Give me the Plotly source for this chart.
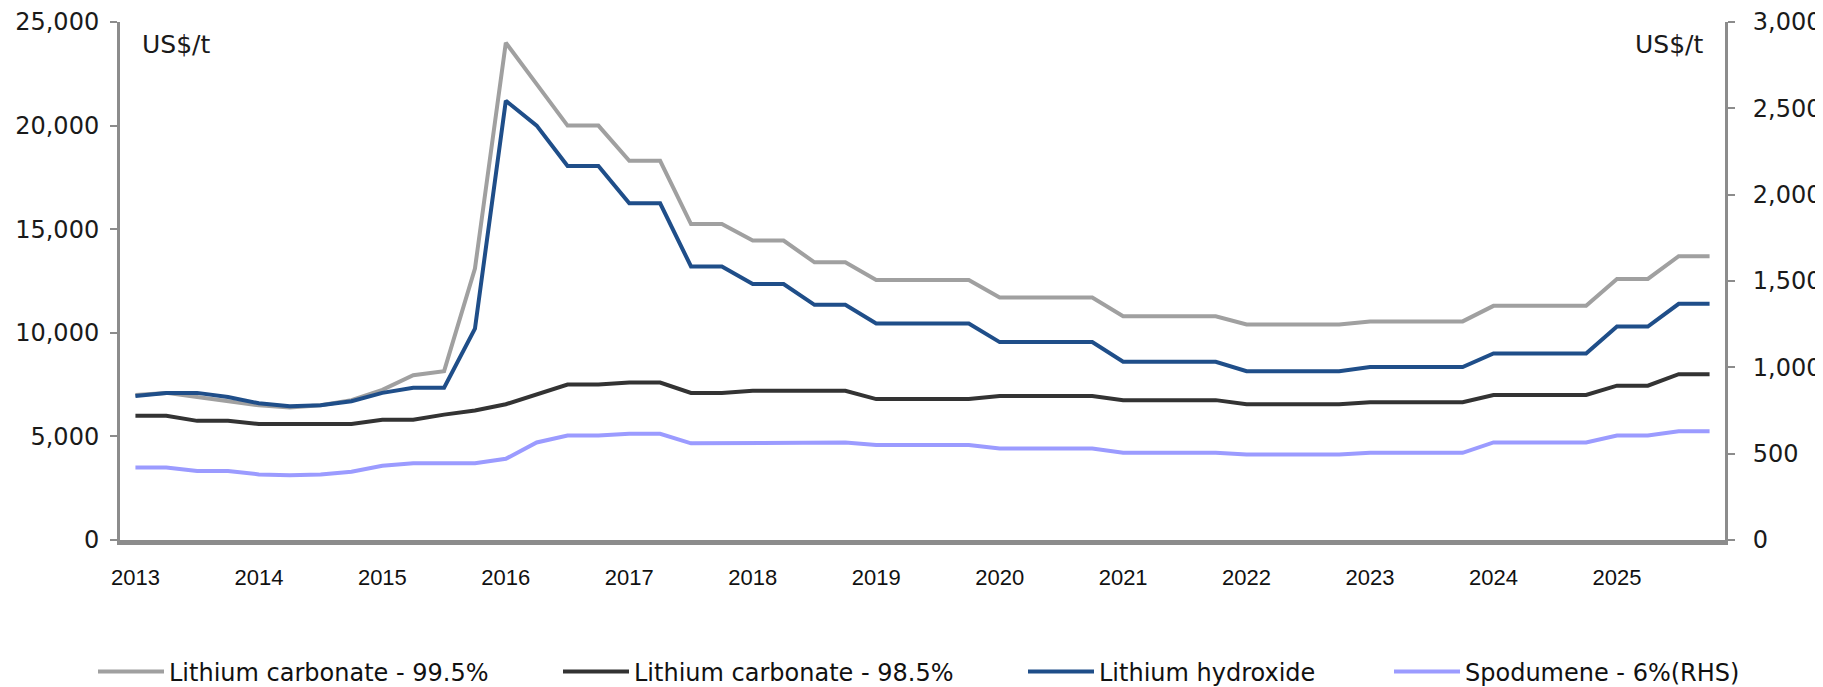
import plotly.graph_objects as go

# Quarterly data, 2013 Q1 .. 2025 Q4
years = [str(y) for y in range(2013, 2026)]
quarters = list(range(52))

carb_995 = [7000, 7100, 6900, 6700, 6500, 6400, 6500, 6750,
            7250, 7950, 8150, 13100, 24000, 22000, 20000, 20000,
            18300, 18300, 15250, 15250, 14450, 14450, 13400, 13400,
            12550, 12550, 12550, 12550, 11700, 11700, 11700, 11700,
            10800, 10800, 10800, 10800, 10400, 10400, 10400, 10400,
            10550, 10550, 10550, 10550, 11300, 11300, 11300, 11300,
            12600, 12600, 13700, 13700]

carb_985 = [6000, 6000, 5750, 5750, 5600, 5600, 5600, 5600,
            5800, 5800, 6050, 6250, 6550, 7000, 7500, 7500,
            7600, 7600, 7100, 7100, 7200, 7200, 7200, 7200,
            6800, 6800, 6800, 6800, 6950, 6950, 6950, 6950,
            6750, 6750, 6750, 6750, 6550, 6550, 6550, 6550,
            6650, 6650, 6650, 6650, 7000, 7000, 7000, 7000,
            7450, 7450, 8000, 8000]

hydroxide = [6950, 7100, 7100, 6900, 6600, 6450, 6500, 6700,
             7100, 7350, 7350, 10200, 21200, 20000, 18050, 18050,
             16250, 16250, 13200, 13200, 12350, 12350, 11350, 11350,
             10450, 10450, 10450, 10450, 9550, 9550, 9550, 9550,
             8600, 8600, 8600, 8600, 8150, 8150, 8150, 8150,
             8350, 8350, 8350, 8350, 9000, 9000, 9000, 9000,
             10300, 10300, 11400, 11400]

spodumene = [420, 420, 400, 400, 380, 375, 380, 395,
             430, 445, 445, 445, 470, 565, 605, 605,
             615, 615, 560, 560, 565, 565, 565, 565,
             550, 550, 550, 550, 530, 530, 530, 530,
             505, 505, 505, 505, 495, 495, 495, 495,
             505, 505, 505, 505, 565, 565, 565, 565,
             605, 605, 630, 630]

year_ticks = quarters[::4]

fig = go.Figure()
fig.add_trace(go.Scatter(x=quarters, y=carb_995, name="Lithium carbonate - 99.5%",
                         mode="lines", line=dict(color="#a0a0a0", width=4), legend="legend"))
fig.add_trace(go.Scatter(x=quarters, y=carb_985, name="Lithium carbonate - 98.5%",
                         mode="lines", line=dict(color="#333333", width=4), legend="legend2"))
fig.add_trace(go.Scatter(x=quarters, y=hydroxide, name="Lithium hydroxide",
                         mode="lines", line=dict(color="#1f4e89", width=4), legend="legend3"))
fig.add_trace(go.Scatter(x=quarters, y=spodumene, name="Spodumene - 6%(RHS)",
                         mode="lines", line=dict(color="#9b9bff", width=4), yaxis="y2",
                         legend="legend4"))

axis_col = "#8c8c8c"
tick_font = dict(family="DejaVu Sans", size=24, color="#1a1a1a")
# page has an 8px body margin; figure sized so it fits the 1823x687 window
W, H = 1815, 679


def leg(xpix):
    return dict(orientation="h", xref="container", yref="container",
                x=xpix / W, y=15 / H, xanchor="left", yanchor="middle",
                font=dict(family="DejaVu Sans", size=24, color="#111111"),
                itemwidth=66, bgcolor="rgba(0,0,0,0)")


fig.update_layout(
    width=W, height=H,
    paper_bgcolor="white", plot_bgcolor="white",
    margin=dict(l=112, r=98, t=14, b=147, autoexpand=False),
    showlegend=True,
    legend=leg(85), legend2=leg(550), legend3=leg(1015), legend4=leg(1381),
    xaxis=dict(range=[-0.5, 51.5], tickmode="array", tickvals=year_ticks, ticktext=years,
               showgrid=False, zeroline=False, showline=True, linecolor=axis_col, linewidth=5,
               ticks="", ticklabelstandoff=14, automargin=False,
               tickfont=dict(family="Liberation Sans", size=22, color="#111111")),
    yaxis=dict(range=[0, 25000], dtick=5000, tickformat=",", showgrid=False, zeroline=False,
               showline=True, linecolor=axis_col, linewidth=3, ticks="outside", automargin=False,
               ticklen=7, tickcolor=axis_col, tickwidth=2, tickfont=tick_font,
               ticklabelstandoff=6),
    yaxis2=dict(range=[0, 3000], dtick=500, tickformat=",", overlaying="y", side="right",
                showgrid=False, zeroline=False, showline=True, linecolor=axis_col, linewidth=3,
                ticks="outside", ticklen=7, tickcolor=axis_col, tickwidth=2, tickfont=tick_font,
                automargin=False, ticklabelstandoff=13),
    annotations=[
        dict(text="US$/t", xref="paper", yref="paper", x=0.0125, y=0.9575, xanchor="left",
             yanchor="middle", showarrow=False,
             font=dict(family="DejaVu Sans", size=25, color="#1a1a1a")),
        dict(text="US$/t", xref="paper", yref="paper", x=0.9875, y=0.9575, xanchor="right",
             yanchor="middle", showarrow=False,
             font=dict(family="DejaVu Sans", size=25, color="#1a1a1a")),
    ],
)

fig.write_html("out.html")
